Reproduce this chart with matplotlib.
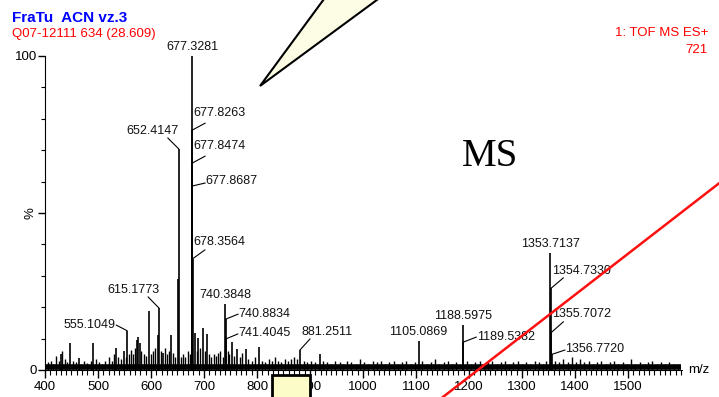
import matplotlib
matplotlib.use("Agg")
import matplotlib.pyplot as plt
from matplotlib.patches import Polygon, Rectangle
from matplotlib.lines import Line2D

plt.rcParams['font.family'] = ['Liberation Sans', 'DejaVu Sans']

# labelled peaks (m/z, relative intensity %)
peak_mz = [555.1049, 615.1773, 652.4147, 677.3281, 677.8263, 677.8474, 677.8687,
           678.3564, 740.3848, 740.8834, 741.4045, 881.2511, 1105.0869, 1188.5975,
           1189.5382, 1353.7137, 1354.7330, 1355.7072, 1356.7720]
peak_int = [12.5, 19.7, 70.4, 100.0, 76.4, 65.9, 58.6,
            35.4, 21.0, 16.2, 9.9, 6.4, 9.3, 14.3,
            8.9, 37.2, 26.0, 12.0, 5.0]

# unlabelled peaks
minor_mz = [430, 447, 464, 491, 534, 549, 573, 576, 579, 596, 613, 623, 638, 651.9,
            683, 689, 697.5, 705, 753, 763, 779, 804, 919]
minor_int = [5.0, 8.6, 3.8, 8.6, 7.0, 6.0, 9.5, 10.5, 8.6, 18.8, 11.0, 5.5, 11.0, 29.0,
             11.8, 10.3, 13.4, 11.5, 8.9, 6.7, 6.7, 7.3, 5.0]

# baseline noise
noise_mz = [405, 411, 416, 421, 426, 433, 438, 442, 452, 458, 468, 474, 480, 486, 496,
            502, 508, 514, 520, 526, 531, 538, 543, 553, 558, 562, 566, 569, 582, 586,
            590, 600, 604, 608, 618, 626, 631, 634, 642, 646, 656, 660, 664, 670, 673,
            686, 692, 701, 709, 713, 718, 722, 727, 731, 735, 745, 748, 757, 768, 772,
            783, 790, 796, 810, 816, 822, 828, 834, 840, 846, 852, 858, 864, 870, 876,
            888, 895, 902, 910, 925, 933, 940, 948, 956, 962, 970, 978, 986, 994, 1002,
            1010, 1018, 1026, 1034, 1042, 1050, 1058, 1066, 1074, 1082, 1090, 1098, 1112,
            1120, 1128, 1136, 1144, 1152, 1160, 1168, 1176, 1196, 1204, 1212, 1220, 1228,
            1236, 1244, 1252, 1260, 1268, 1276, 1284, 1292, 1300, 1308, 1316, 1324, 1332,
            1340, 1346, 1362, 1370, 1378, 1386, 1394, 1402, 1410, 1418, 1426, 1434, 1442,
            1450, 1458, 1466, 1474, 1482, 1490, 1498, 1506, 1514, 1522, 1530, 1538, 1546,
            1554, 1562, 1570, 1578, 1586, 1594]
noise_int = [2.5, 3, 2, 4.5, 3, 6, 3.5, 2.5, 3, 2.5, 2, 2.8, 2.2, 3, 3.5,
             2.5, 2, 3, 4, 3, 5, 4, 3.5, 4, 5, 6.5, 5, 7, 6, 5,
             4.5, 5, 6, 7, 6, 7, 5, 6, 5.5, 4, 4, 5, 4, 6, 5,
             6, 7, 6, 5, 4, 5, 4.5, 5.5, 6, 4, 6, 5, 4.5, 4, 5.5,
             3.5, 3, 4, 3, 2.5, 3.5, 3, 4, 3, 2.5, 3.5, 3, 3.5, 4, 3.5,
             3, 2.5, 3, 2.5, 3, 2.5, 2, 3, 2.5, 2, 3, 2.5, 2, 3.5, 2.5,
             2, 3, 2.5, 3, 2, 2.5, 3, 2, 2.5, 3, 2, 2.5, 3,
             2, 2.5, 3.5, 2, 2.5, 3, 2, 2.5, 3, 2, 2.5, 3, 2,
             2.5, 3, 2, 2.5, 3, 2, 2.5, 3, 2, 2.5, 2, 3, 2.5,
             2, 3, 3, 2.5, 3.5, 2.5, 4, 2.5, 3.5, 2.5, 3, 2, 2.5,
             3, 2, 2.5, 3, 2, 2.5, 2, 3.5, 2, 2.5, 2, 2.5, 3,
             2, 2.5, 2, 2.5, 2, 2]

x_ticks = [400, 500, 600, 700, 800, 900, 1000, 1100, 1200, 1300, 1400, 1500]

# label layout: text offset (px), alignment, leader start offset (px) or None
label_layout = [
    ((-12, 6), 'right', (-11, 5.7)),
    ((0, 18), 'right', (-11, 11.3)),
    ((0, 18), 'right', (-11, 11)),
    ((0, 3), 'center', None),
    ((1, 17), 'left', (13, 7)),
    ((1, 17), 'left', (13, 7)),
    ((13.5, 5), 'left', (13, 3)),
    ((1, 17), 'left', (12.5, 9)),
    ((0, 3), 'center', None),
    ((12.5, 5.5), 'left', (12.5, 5)),
    ((12.5, 5.5), 'left', (12, 5)),
    ((1, 18), 'left', (10, 11)),
    ((0, 3), 'center', None),
    ((0, 3), 'center', None),
    ((13.5, 5.3), 'left', (13, 5)),
    ((0, 3), 'center', None),
    ((1, 17), 'left', (12.5, 10.6)),
    ((1, 18), 'left', (12, 10.6)),
    ((13.5, 5), 'left', (13, 4.3)),
]

W, H = 719, 397
fig = plt.figure(figsize=(W / 100, H / 100), dpi=100)
ax = fig.add_axes([45 / W, 27 / H, 637 / W, 314 / H])

ax.vlines(noise_mz, 0, noise_int, color='black', lw=1)
ax.vlines(minor_mz, 0, minor_int, color='black', lw=1.2)
ax.vlines(peak_mz, 0, peak_int, color='black', lw=1.2)
ax.plot([400, 1600], [0.8, 0.8], color='black', lw=4, solid_capstyle='butt')

for mz, h, txt, (toff, ha, lead) in zip(peak_mz, peak_int,
                                        [f"{m:.4f}" for m in peak_mz], label_layout):
    va = 'bottom' if ha == 'center' else 'center'
    ax.annotate(txt, xy=(mz, h), xytext=toff, textcoords='offset pixels',
                ha=ha, va=va, fontsize=9, color='#111111')
    if lead is not None:
        ax.annotate('', xy=(mz, h), xytext=lead, textcoords='offset pixels',
                    arrowprops=dict(arrowstyle='-', lw=0.8, color='black',
                                    shrinkA=0, shrinkB=0))

ax.set_xlim(400, 1602)
ax.set_ylim(0, 100)
for s in ['top', 'right']:
    ax.spines[s].set_visible(False)
ax.spines['bottom'].set_bounds(400, 1602)
ax.set_xticks(x_ticks)
ax.set_xticks(range(400, 1601, 10), minor=True)
ax.set_yticks([0, 50, 100])
ax.set_yticklabels(['0', '', '100'])
ax.set_yticks(range(0, 101, 10), minor=True)
ax.tick_params(axis='x', which='major', length=6, width=1, pad=2, labelsize=9.5)
ax.tick_params(axis='x', which='minor', length=3.5, width=0.8)
ax.tick_params(axis='y', which='major', length=5, width=1, pad=0.5, labelsize=9.5)
ax.tick_params(axis='y', which='minor', length=3, width=0.8)
ax.set_ylabel('%', fontsize=9.5)
ax.yaxis.set_label_coords(-9 / 637, 0.5)
ax.text(1.01, 0.0, 'm/z', transform=ax.transAxes, fontsize=9.5, ha='left', va='center')

# header text
fig.text(12 / W, 1 - 17.5 / H, 'FraTu  ACN vz.3', color='#0000ff', fontsize=11,
         fontweight='bold', ha='left', va='center')
fig.text(12 / W, 1 - 34.5 / H, 'Q07-12111 634 (28.609)', color='#ff0000', fontsize=9.5,
         ha='left', va='center')
fig.text(708 / W, 1 - 33 / H, '1: TOF MS ES+', color='#ff0000', fontsize=9.5,
         ha='right', va='center')
fig.text(708 / W, 1 - 50 / H, '721', color='#ff0000', fontsize=9.5,
         ha='right', va='center')
fig.text(490 / W, 1 - 157 / H, 'MS', family='Liberation Serif', fontsize=28,
         ha='center', va='center')

# overlay shapes
def fpt(x, y):
    return (x / W, 1 - y / H)

tri = Polygon([fpt(260, 86), fpt(338, -20), fpt(404, -20)], closed=True,
              facecolor='#fdfde6', edgecolor='black', lw=1.5,
              transform=fig.transFigure, zorder=10)
fig.add_artist(tri)
box = Rectangle(fpt(272, 420), 38 / W, 45 / H, facecolor='#fcfcc8',
                edgecolor='black', lw=2, transform=fig.transFigure, zorder=10)
fig.add_artist(box)
red = Line2D([440 / W, 722 / W], [1 - 399.3 / H, 1 - 181 / H], color='#ff1010', lw=1.8,
             transform=fig.transFigure, zorder=11)
fig.add_artist(red)

fig.savefig('out.png', dpi=100)
